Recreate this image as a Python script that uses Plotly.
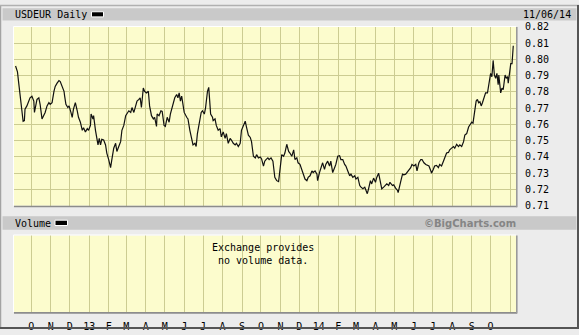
import plotly.graph_objects as go

# ---------------- data ----------------
dates = [
 "2012-09-06","2012-09-09","2012-09-11","2012-09-14","2012-09-16","2012-09-18","2012-09-20","2012-09-21","2012-09-24","2012-09-27","2012-09-29",
 "2012-10-02","2012-10-05","2012-10-06","2012-10-08","2012-10-10","2012-10-13","2012-10-15","2012-10-18","2012-10-21","2012-10-23","2012-10-26","2012-10-29","2012-10-31",
 "2012-11-03","2012-11-06","2012-11-08","2012-11-11","2012-11-14","2012-11-16","2012-11-18","2012-11-20","2012-11-22","2012-11-23","2012-11-25","2012-11-28","2012-11-30",
 "2012-12-03","2012-12-05","2012-12-07","2012-12-10","2012-12-13","2012-12-15","2012-12-18","2012-12-21","2012-12-23","2012-12-26","2012-12-29","2012-12-31",
 "2013-01-03","2013-01-04","2013-01-07","2013-01-08","2013-01-11","2013-01-14","2013-01-15","2013-01-17","2013-01-19","2013-01-21","2013-01-24","2013-01-27","2013-01-29",
 "2013-02-01","2013-02-04","2013-02-06","2013-02-09","2013-02-12","2013-02-14","2013-02-17","2013-02-20","2013-02-22","2013-02-25","2013-02-28",
 "2013-03-02","2013-03-05","2013-03-08","2013-03-10","2013-03-13","2013-03-16","2013-03-18","2013-03-21","2013-03-23","2013-03-25","2013-03-28","2013-03-30",
 "2013-04-02","2013-04-05","2013-04-07","2013-04-10","2013-04-13","2013-04-15","2013-04-18","2013-04-19","2013-04-22","2013-04-25","2013-04-27","2013-04-30",
 "2013-05-02","2013-05-05","2013-05-08","2013-05-10","2013-05-12","2013-05-14","2013-05-17","2013-05-20","2013-05-22","2013-05-24","2013-05-26","2013-05-28","2013-05-30",
 "2013-06-01","2013-06-05","2013-06-07","2013-06-10","2013-06-13","2013-06-15","2013-06-18","2013-06-20","2013-06-22","2013-06-25","2013-06-28","2013-06-30",
 "2013-07-03","2013-07-05","2013-07-06","2013-07-08","2013-07-10","2013-07-11","2013-07-13","2013-07-16","2013-07-17","2013-07-20","2013-07-22","2013-07-25","2013-07-28","2013-07-30",
 "2013-08-02","2013-08-05","2013-08-07","2013-08-10","2013-08-13","2013-08-15","2013-08-18","2013-08-21","2013-08-23","2013-08-26","2013-08-29","2013-08-31",
 "2013-09-03","2013-09-06","2013-09-08","2013-09-11","2013-09-14","2013-09-16","2013-09-19","2013-09-22","2013-09-24","2013-09-27","2013-09-30",
 "2013-10-02","2013-10-05","2013-10-07","2013-10-09","2013-10-12","2013-10-14","2013-10-17","2013-10-20","2013-10-21","2013-10-23","2013-10-26","2013-10-29","2013-10-30",
 "2013-11-01","2013-11-03","2013-11-06","2013-11-08","2013-11-11","2013-11-14","2013-11-16","2013-11-19","2013-11-22","2013-11-24","2013-11-27","2013-11-29",
 "2013-12-02","2013-12-05","2013-12-07","2013-12-10","2013-12-13","2013-12-15","2013-12-18","2013-12-21","2013-12-23","2013-12-26","2013-12-29","2013-12-30",
 "2014-01-02","2014-01-05","2014-01-07","2014-01-10","2014-01-12","2014-01-15","2014-01-18","2014-01-20","2014-01-23","2014-01-26","2014-01-28","2014-01-31",
 "2014-02-03","2014-02-05","2014-02-08","2014-02-11","2014-02-13","2014-02-16","2014-02-19","2014-02-21","2014-02-24","2014-02-27",
 "2014-03-01","2014-03-04","2014-03-07","2014-03-09","2014-03-12","2014-03-15","2014-03-17","2014-03-19","2014-03-21","2014-03-24","2014-03-26","2014-03-29",
 "2014-04-01","2014-04-03","2014-04-06","2014-04-08","2014-04-11","2014-04-14","2014-04-16","2014-04-19","2014-04-22","2014-04-24","2014-04-28","2014-04-30",
 "2014-05-03","2014-05-06","2014-05-07","2014-05-09","2014-05-12","2014-05-14","2014-05-16","2014-05-19","2014-05-21","2014-05-24","2014-05-27","2014-05-29",
 "2014-06-01","2014-06-04","2014-06-06","2014-06-09","2014-06-12","2014-06-14","2014-06-17","2014-06-20","2014-06-22","2014-06-25","2014-06-28","2014-06-29",
 "2014-07-02","2014-07-04","2014-07-07","2014-07-10","2014-07-12","2014-07-15","2014-07-18","2014-07-20","2014-07-23","2014-07-26","2014-07-28","2014-07-31",
 "2014-08-03","2014-08-05","2014-08-08","2014-08-11","2014-08-13","2014-08-16","2014-08-19","2014-08-21","2014-08-24","2014-08-27","2014-08-29",
 "2014-09-01","2014-09-03","2014-09-06","2014-09-08","2014-09-10","2014-09-12","2014-09-14","2014-09-16","2014-09-18","2014-09-20","2014-09-23","2014-09-26","2014-09-28",
 "2014-10-01","2014-10-03","2014-10-05","2014-10-07","2014-10-09","2014-10-11","2014-10-13","2014-10-14","2014-10-17","2014-10-19","2014-10-21","2014-10-22","2014-10-24","2014-10-26","2014-10-28","2014-10-29","2014-10-31",
 "2014-11-02","2014-11-04","2014-11-05","2014-11-06",
]
usdeur = [
 0.796,0.7924,0.7854,0.7764,0.7684,0.762,0.7624,0.7694,0.7714,0.7744,0.7764,
 0.7774,0.7744,0.7674,0.7714,0.7754,0.7764,0.7724,0.7634,0.7654,0.7674,0.7714,0.7734,0.7724,
 0.7734,0.7804,0.7834,0.7854,0.787,0.7864,0.7844,0.7834,0.7804,0.7774,0.7724,0.7704,0.7714,
 0.7674,0.7644,0.7694,0.7734,0.7684,0.7644,0.7614,0.7564,0.758,0.7554,0.7574,0.7564,
 0.7594,0.7664,0.7634,0.7654,0.7564,0.7504,0.7474,0.7514,0.7474,0.7508,0.7504,0.7474,0.7424,
 0.7384,0.7334,0.7384,0.7454,0.7484,0.7434,0.7464,0.7494,0.7564,0.7594,0.7654,
 0.7664,0.7684,0.7674,0.7704,0.7674,0.7714,0.7744,0.7754,0.7764,0.7704,0.7824,0.7804,
 0.7794,0.7804,0.7714,0.7654,0.7634,0.7644,0.7588,0.7664,0.7654,0.7684,0.768,0.7594,
 0.7588,0.7644,0.7614,0.7664,0.7694,0.7734,0.7764,0.7784,0.7764,0.7794,0.7744,0.7774,0.7734,
 0.7674,0.7644,0.7634,0.7564,0.7514,0.7474,0.7484,0.7464,0.7544,0.7624,0.7674,0.7684,
 0.7664,0.7704,0.7744,0.7804,0.7828,0.7744,0.7664,0.7644,0.7624,0.7634,0.7594,0.7564,0.7574,0.7524,
 0.7554,0.7514,0.7544,0.7484,0.7514,0.7504,0.7484,0.7474,0.7484,0.7464,0.7484,0.7564,
 0.7594,0.762,0.7584,0.7534,0.752,0.7494,0.7404,0.7394,0.7414,0.7394,0.74,
 0.7388,0.7344,0.7374,0.7384,0.7394,0.7384,0.7394,0.7374,0.7324,0.7274,0.7254,0.7248,0.728,
 0.7354,0.7414,0.7404,0.7424,0.7478,0.7434,0.7424,0.7404,0.7444,0.7384,0.7394,0.7364,
 0.7354,0.7324,0.7294,0.7264,0.7254,0.7274,0.7284,0.7314,0.7304,0.7314,0.7294,0.7254,
 0.7304,0.7344,0.7364,0.7324,0.7354,0.7374,0.7344,0.7374,0.7304,0.7334,0.7354,0.7404,
 0.7408,0.7384,0.7384,0.7354,0.7344,0.7314,0.7284,0.7294,0.7274,0.7284,
 0.7264,0.7274,0.7224,0.7214,0.7204,0.7214,0.7194,0.7174,0.7204,0.7254,0.7234,0.727,
 0.7244,0.7274,0.73,0.7264,0.7204,0.7214,0.722,0.7234,0.7224,0.7244,0.7224,0.7228,
 0.7208,0.7194,0.718,0.7224,0.7264,0.7294,0.729,0.7294,0.7304,0.7324,0.7334,0.7354,
 0.7344,0.7354,0.7314,0.7364,0.7384,0.7384,0.7364,0.7354,0.7348,0.7344,0.7314,0.73,
 0.7324,0.7344,0.7348,0.7334,0.7354,0.7344,0.7374,0.7394,0.7424,0.7428,0.7444,0.7454,
 0.7464,0.7454,0.7478,0.7464,0.7474,0.7464,0.7494,0.7534,0.7544,0.7584,0.7594,
 0.7614,0.7608,0.7694,0.7744,0.7754,0.7734,0.774,0.7714,0.7734,0.7764,0.7794,0.7794,0.7844,
 0.7914,0.7894,0.7994,0.7904,0.7884,0.7914,0.7844,0.7904,0.7794,0.7824,0.7814,0.7844,0.7904,0.7884,0.7894,0.7854,0.7914,
 0.7974,0.7974,0.8024,0.8084,
]

month_ticks = [
 "2012-10-01","2012-11-01","2012-12-01","2013-01-01","2013-02-01","2013-03-01","2013-04-01",
 "2013-05-01","2013-06-01","2013-07-01","2013-08-01","2013-09-01","2013-10-01","2013-11-01",
 "2013-12-01","2014-01-01","2014-02-01","2014-03-01","2014-04-01","2014-05-01","2014-06-01",
 "2014-07-01","2014-08-01","2014-09-01","2014-10-01","2014-11-01",
]
month_labels = ["O","N","D","13","F","M","A","M","J","J","A","S","O",
                "N","D","14","F","M","A","M","J","J","A","S","O",""]
y_ticks = [0.71,0.72,0.73,0.74,0.75,0.76,0.77,0.78,0.79,0.80,0.81,0.82]
x_range = ["2012-09-03 12:00", "2014-11-10 08:00"]

title_text = "USDEUR Daily"
date_stamp = "11/06/14"
volume_title = "Volume"
volume_note = "Exchange provides<br>no volume data."
credit = "©BigCharts.com"

# ---------------- layout helpers ----------------
W, H = 579, 335
def px(x): return x / W
def py(y): return 1 - y / H

MONO = "DejaVu Sans Mono"
GRID = "#cccc92"
PLOT_BG = "#fcfccd"
BAND = "#c9c9c9"

fig = go.Figure()
fig.add_trace(go.Scatter(x=dates, y=usdeur, mode="lines",
                         line=dict(color="#111111", width=1.2),
                         xaxis="x", yaxis="y", showlegend=False, hoverinfo="skip"))
# empty trace for the volume panel
fig.add_trace(go.Scatter(x=[dates[0]], y=[None], mode="lines",
                         xaxis="x2", yaxis="y2", showlegend=False, hoverinfo="skip"))

L, R = 14, 516
main_top, main_bot = 22.7, 207.5
vol_top, vol_bot = 238.3, 317.5

shapes = []
# header bands
for (y0, y1) in [(3.3, 16), (218.3, 232.3)]:
    shapes.append(dict(type="rect", xref="paper", yref="paper", x0=px(2.5), x1=px(576.5),
                       y0=py(y1), y1=py(y0), line=dict(width=0), fillcolor=BAND, layer="below"))
# frame lines
shapes.append(dict(type="line", xref="paper", yref="paper", x0=px(0.5), x1=px(0.5), y0=0, y1=1,
                   line=dict(color="#a3a3a3", width=1.5)))
shapes.append(dict(type="line", xref="paper", yref="paper", x0=0, x1=1, y0=py(0.5), y1=py(0.5),
                   line=dict(color="#b0b0b0", width=1.5)))
shapes.append(dict(type="line", xref="paper", yref="paper", x0=px(578), x1=px(578), y0=0, y1=1,
                   line=dict(color="#555555", width=2)))
shapes.append(dict(type="line", xref="paper", yref="paper", x0=0, x1=1, y0=py(334), y1=py(334),
                   line=dict(color="#555555", width=2)))
# panel shadows (bottom + right) and highlights (top + left)
for (t, b) in [(main_top, main_bot), (vol_top, vol_bot)]:
    shapes.append(dict(type="line", xref="paper", yref="paper", x0=px(L), x1=px(R + 1),
                       y0=py(b + 0.8), y1=py(b + 0.8), line=dict(color="#8c8c8c", width=1.6)))
    shapes.append(dict(type="line", xref="paper", yref="paper", x0=px(R + 0.8), x1=px(R + 0.8),
                       y0=py(b + 1.5), y1=py(t), line=dict(color="#9a9a9a", width=1.6)))
    shapes.append(dict(type="line", xref="paper", yref="paper", x0=px(L - 0.5), x1=px(R),
                       y0=py(t - 0.5), y1=py(t - 0.5), line=dict(color="#ffffff", width=1)))
    shapes.append(dict(type="line", xref="paper", yref="paper", x0=px(L - 0.5), x1=px(L - 0.5),
                       y0=py(b), y1=py(t - 0.5), line=dict(color="#ffffff", width=1)))
# legend swatches
for (x0, x1, y0, y1) in [(91.5, 103.5, 7.0, 12.3), (55.0, 67.5, 222.5, 228.0)]:
    shapes.append(dict(type="rect", xref="paper", yref="paper", x0=px(x0), x1=px(x1),
                       y0=py(y1), y1=py(y0), fillcolor="#000000",
                       line=dict(color="#ffffff", width=1)))

annotations = [
    dict(text=title_text, x=px(14), y=py(9.8), xanchor="left", yanchor="middle"),
    dict(text=date_stamp, x=px(572), y=py(9.8), xanchor="right", yanchor="middle"),
    dict(text=volume_title, x=px(14), y=py(225.5), xanchor="left", yanchor="middle"),
    dict(text=volume_note, x=px(263), y=py(257), xanchor="center", yanchor="middle"),
]
for a in annotations:
    a.update(xref="paper", yref="paper", showarrow=False,
             font=dict(family=MONO, size=10, color="#000000"), borderpad=0)
annotations.append(dict(text="<b>" + credit + "</b>", x=px(517), y=py(225.5),
                        xanchor="right", yanchor="middle", xref="paper", yref="paper",
                        showarrow=False, borderpad=0,
                        font=dict(family="DejaVu Sans", size=10, color="#858585")))

fig.update_layout(
    width=W, height=H, margin=dict(l=0, r=0, t=0, b=0),
    paper_bgcolor="#ececec", plot_bgcolor=PLOT_BG,
    shapes=shapes, annotations=annotations, showlegend=False,
    xaxis=dict(domain=[px(L), px(R)], range=x_range, type="date",
               tickvals=month_ticks, showticklabels=False, ticks="",
               showgrid=True, gridcolor=GRID, gridwidth=1, zeroline=False,
               showline=False, anchor="y", fixedrange=True),
    yaxis=dict(domain=[py(main_bot), py(main_top)], range=[0.71, 0.82], side="right",
               tickvals=y_ticks, tickformat=".2f", ticks="", ticklabelstandoff=8,
               showgrid=True, gridcolor=GRID, gridwidth=1, zeroline=False,
               tickfont=dict(family=MONO, size=10, color="#000000"),
               showline=False, anchor="x", fixedrange=True),
    xaxis2=dict(domain=[px(L), px(R)], range=x_range, type="date",
                tickvals=month_ticks, ticktext=month_labels, ticks="",
                ticklabelstandoff=7,
                tickfont=dict(family=MONO, size=10, color="#000000"),
                showgrid=True, gridcolor=GRID, gridwidth=1, zeroline=False,
                showline=False, anchor="y2", fixedrange=True),
    yaxis2=dict(domain=[py(vol_bot), py(vol_top)], range=[0, 1],
                showgrid=False, showticklabels=False, ticks="", zeroline=False,
                showline=False, anchor="x2", fixedrange=True),
)

fig.write_html("out.html")
